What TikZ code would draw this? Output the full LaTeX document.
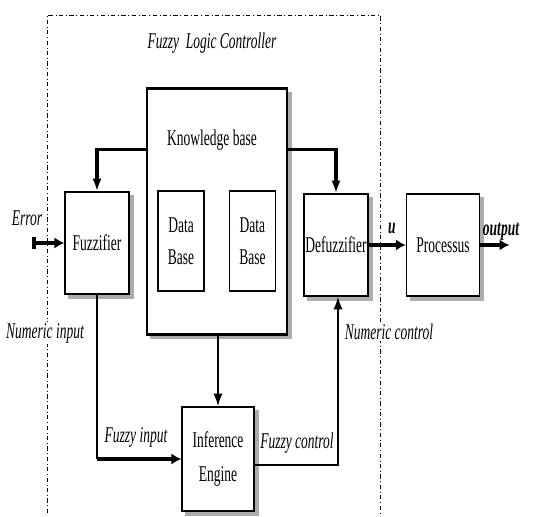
\documentclass[tikz,border=0pt]{standalone}
\usepackage{fontspec}
\setmainfont{Liberation Serif}[FakeStretch=0.6]
\usetikzlibrary{arrows.meta, positioning, backgrounds}

\begin{document}
\begin{tikzpicture}[x=0.025cm, y=-0.025cm, >={Latex[length=9pt, width=6.5pt]},
    font=\fontsize{16}{17}\selectfont,
    block/.style={draw, line width=1pt, fill=white, align=center, inner sep=0pt},
    lbl/.style={font=\fontsize{16}{17}\selectfont\itshape, inner sep=1pt},
    wire/.style={line width=1.2pt},
    bus/.style={line width=2.4pt}]
    \useasboundingbox (0,0) rectangle (549,517);

    % controller frame
    \draw[dash dot, line width=0.7pt] (47,513) -- (47,15) -- (380,15) -- (380,513);
    \node[lbl] (title) at (212,43) {Fuzzy\ \ Logic Controller};

    \node[block, minimum width=3.5cm, minimum height=6.125cm] (kb) at (217,211.5) {};
    \draw[line width=2.4pt] (kb.north west) -- (kb.north east);
    \draw[line width=2.4pt] (kb.south west) -- (kb.south east);
    \node (kbtitle) at (212,140) {Knowledge base};

    \node[block, minimum width=1.15cm, minimum height=2.5cm] (db1) at (181,241) {Data\\[6pt]Base};
    \node[block, minimum width=1.15cm, minimum height=2.5cm, right=0.6cm of db1] (db2) {Data\\[6pt]Base};

    \node[block, minimum width=1.6cm, minimum height=2.55cm] (fuzz) at (97,243) {Fuzzifier};
    \node[block, minimum width=1.6cm, minimum height=2.55cm] (defuzz) at (336,245) {Defuzzifier};
    \node[block, minimum width=1.825cm, minimum height=2.55cm, right=0.925cm of defuzz] (proc) {Processus};
    \node[block, minimum width=1.8cm, minimum height=2.6cm] (inf) at (218,459) {Inference\\[7pt]Engine};

    % grey shadows
    \begin{scope}[on background layer]
        \foreach \b in {kb, db1, db2, fuzz, defuzz, proc, inf}
            \fill[gray!65] ([shift={(0.1cm,-0.1cm)}]\b.south west) rectangle ([shift={(0.1cm,-0.1cm)}]\b.north east);
    \end{scope}

    \coordinate[left=0.8cm of fuzz.west] (errin);
    \coordinate[right=0.73cm of proc.east] (out);

    \draw[bus, ->] ([yshift=-1.525cm]kb.north west) -| (fuzz.north);
    \draw[bus, ->] ([yshift=-1.525cm]kb.north east) -| (defuzz.north);
    \draw[bus, {Bar[width=8pt]}-{Latex[length=7pt, width=8pt]}] (errin) -- (fuzz.west);
    \draw[bus, -{Latex[length=7pt, width=8pt]}] (defuzz.east) -- (proc.west);
    \draw[bus, -{Latex[length=7pt, width=8pt]}] (proc.east) -- (out);
    \draw[wire] (fuzz.south) -- (fuzz.south |- inf.west);
    \draw[line width=3.4pt, -{Latex[length=7pt, width=8pt]}] (fuzz.south |- inf.west) -- (inf.west);
    \draw[wire, ->] (inf.north |- kb.south) -- (inf.north);
    \draw[wire, ->] ([yshift=-0.15cm]inf.east) -| ([xshift=0.05cm]defuzz.south);

    \node[lbl] (lerr) at (27,218) {Error};
    \node[lbl, fill=white] (lnumin) at (45,333) {Numeric input};
    \node[lbl, fill=white] (lnumctl) at (389,332) {Numeric control};
    \node[lbl] (lfzin) at (136,437) {Fuzzy input};
    \node[lbl] (lfzctl) at (297,443) {Fuzzy control};
    \node[lbl, font=\fontsize{16}{17}\selectfont\bfseries\itshape] (lu) at (392,228) {u};
    \node[lbl, font=\fontsize{16}{17}\selectfont\bfseries\itshape] (lout) at (501,232) {output};
\end{tikzpicture}
\end{document}
